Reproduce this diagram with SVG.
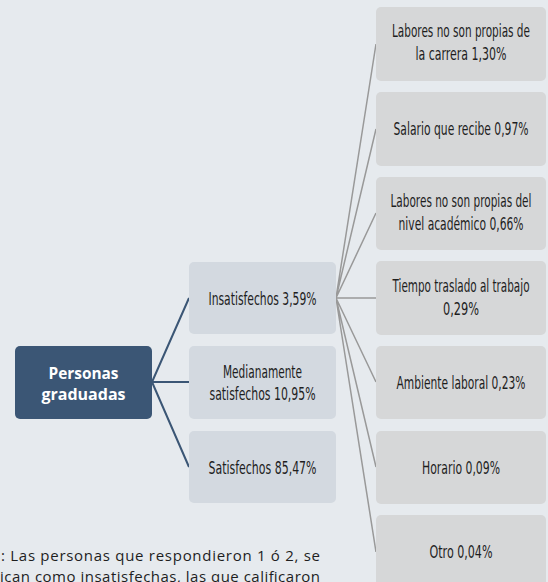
<svg xmlns="http://www.w3.org/2000/svg" width="548" height="582" viewBox="0 0 548 582">
<style>
.bg{fill:#e6eaee}
.root{fill:#3b5675}
.mid{fill:#d3d9e0}
.leaf{fill:#d6d7d8}
.ct{font-family:"Liberation Sans Narrow","DejaVu Sans","Liberation Sans",sans-serif;font-stretch:condensed;font-size:17px;fill:#1e1e1e;text-anchor:middle}
.rt{font-family:"Open Sans","Noto Sans",sans-serif;font-size:15.5px;font-weight:bold;fill:#ffffff;text-anchor:middle}
.note{font-family:"Open Sans","Noto Sans",sans-serif;font-size:15px;fill:#1e1e1e}
.cb{stroke:#3b5675;stroke-width:2;fill:none}
.cg{stroke:#999999;stroke-width:1.5;fill:none}
</style>
<rect class="bg" x="0" y="0" width="548" height="582"/>
<g id="footnote">
<text class="note" x="1" y="561" textLength="319" lengthAdjust="spacing">: Las personas que respondieron 1 ó 2, se</text>
<text class="note" x="0" y="581.5" textLength="320" lengthAdjust="spacing">ican como insatisfechas, las que calificaron</text>
</g>
<g id="connectors">
<path class="cb" d="M152,382 L189,298 M152,382 L189,382 M152,382 L189,467"/>
<path class="cg" d="M336,298 L376,44 M336,298 L376,129 M336,298 L376,213 M336,298 L376,298 M336,298 L376,382 M336,298 L376,467 M336,298 L376,552"/>
</g>
<g id="root">
<rect class="root" x="15" y="346" width="137" height="73" rx="5"/>
<text class="rt" x="83.5" y="378.5" textLength="70" lengthAdjust="spacingAndGlyphs">Personas</text>
<text class="rt" x="83.5" y="400" textLength="84" lengthAdjust="spacingAndGlyphs">graduadas</text>
</g>
<g id="insatisfechos">
<rect class="mid" x="189" y="262" width="147" height="72" rx="5"/>
<text class="ct" x="262.5" y="304.5" textLength="108" lengthAdjust="spacingAndGlyphs">Insatisfechos 3,59%</text>
</g>
<g id="medianamente">
<rect class="mid" x="189" y="346" width="147" height="73" rx="5"/>
<text class="ct" x="262.5" y="377.5" textLength="79" lengthAdjust="spacingAndGlyphs">Medianamente</text>
<text class="ct" x="262.5" y="399.5" textLength="106" lengthAdjust="spacingAndGlyphs">satisfechos 10,95%</text>
</g>
<g id="satisfechos">
<rect class="mid" x="189" y="431" width="147" height="72" rx="5"/>
<text class="ct" x="262.5" y="473.5" textLength="108" lengthAdjust="spacingAndGlyphs">Satisfechos 85,47%</text>
</g>
<g id="leaf1">
<rect class="leaf" x="376" y="7" width="170" height="74" rx="5"/>
<text class="ct" x="461" y="37" textLength="138" lengthAdjust="spacingAndGlyphs">Labores no son propias de</text>
<text class="ct" x="461" y="60" textLength="91" lengthAdjust="spacingAndGlyphs">la carrera 1,30%</text>
</g>
<g id="leaf2">
<rect class="leaf" x="376" y="92" width="170" height="74" rx="5"/>
<text class="ct" x="461" y="135" textLength="135" lengthAdjust="spacingAndGlyphs">Salario que recibe 0,97%</text>
</g>
<g id="leaf3">
<rect class="leaf" x="376" y="177" width="170" height="73" rx="5"/>
<text class="ct" x="461" y="207" textLength="141" lengthAdjust="spacingAndGlyphs">Labores no son propias del</text>
<text class="ct" x="461" y="230" textLength="125" lengthAdjust="spacingAndGlyphs">nivel académico 0,66%</text>
</g>
<g id="leaf4">
<rect class="leaf" x="376" y="261" width="170" height="74" rx="5"/>
<text class="ct" x="461" y="292" textLength="137" lengthAdjust="spacingAndGlyphs">Tiempo traslado al trabajo</text>
<text class="ct" x="461" y="315" textLength="36" lengthAdjust="spacingAndGlyphs">0,29%</text>
</g>
<g id="leaf5">
<rect class="leaf" x="376" y="346" width="170" height="73" rx="5"/>
<text class="ct" x="461" y="388.5" textLength="129" lengthAdjust="spacingAndGlyphs">Ambiente laboral 0,23%</text>
</g>
<g id="leaf6">
<rect class="leaf" x="376" y="431" width="170" height="73" rx="5"/>
<text class="ct" x="461" y="473.5" textLength="78" lengthAdjust="spacingAndGlyphs">Horario 0,09%</text>
</g>
<g id="leaf7">
<rect class="leaf" x="376" y="515" width="170" height="74" rx="5"/>
<text class="ct" x="461" y="557.5" textLength="63" lengthAdjust="spacingAndGlyphs">Otro 0,04%</text>
</g>
</svg>
